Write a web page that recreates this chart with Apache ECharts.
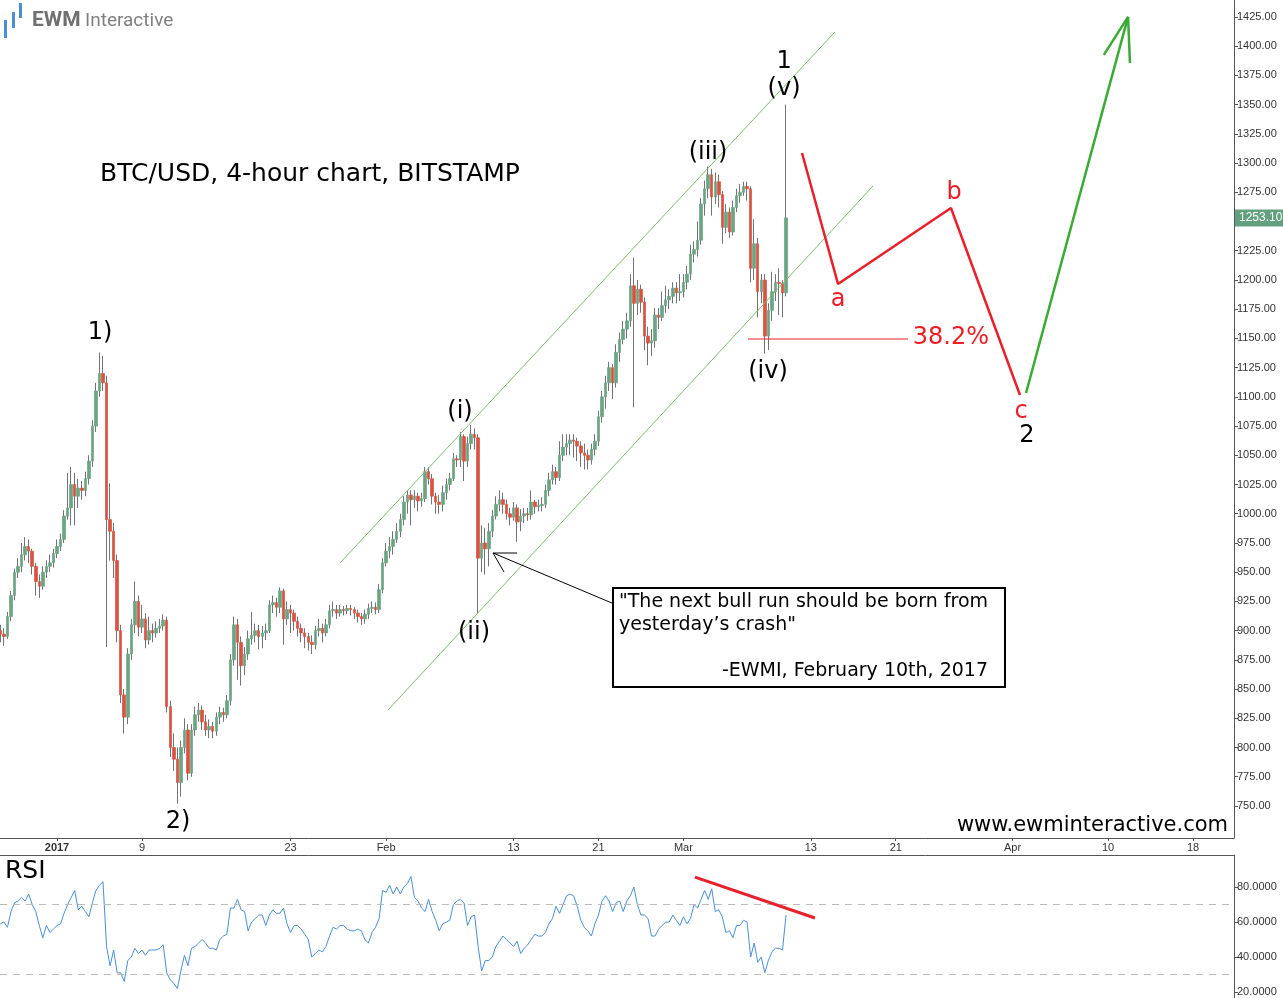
<!DOCTYPE html>
<html><head><meta charset="utf-8">
<script src="https://cdn.jsdelivr.net/npm/echarts@6/dist/echarts.min.js"></script>
<style>html,body{margin:0;padding:0;background:#fff}#c{width:1283px;height:998px}</style>
</head><body><div id="c"></div>
<script>
// ---- data: BTC/USD 8-hour candles (days since Jan 1, 2017) ----
const firstOpen = 900;
const closes = [
897,895,912,930,950,955,965,972,968,955,
942,938,950,955,958,966,972,978,998,1005,
1025,1015,1022,1020,1030,1045,1075,1105,1120,1112,
995,985,960,900,845,826,880,905,925,903,
910,892,900,898,902,904,909,835,800,790,
770,800,815,778,815,828,832,822,815,818,
814,826,830,828,840,875,905,890,870,880,
893,896,900,895,898,900,922,924,920,934,
910,918,915,908,902,898,895,890,888,900,
902,898,905,917,918,915,918,917,919,918,
915,912,910,914,919,920,918,935,958,968,
972,978,985,995,1010,1016,1012,1015,1011,1013,
1036,1030,1015,1010,1008,1018,1025,1030,1047,1046,
1066,1045,1060,1068,1065,962,975,970,985,998,
1008,1012,1008,1000,997,1005,993,998,1000,999,
1010,1006,1007,1008,1020,1029,1036,1031,1050,1057,
1060,1063,1062,1058,1052,1050,1046,1055,1062,1083,
1100,1112,1125,1112,1138,1149,1158,1165,1195,1180,
1192,1181,1152,1146,1148,1170,1168,1178,1183,1186,
1193,1189,1190,1198,1205,1222,1226,1234,1265,1278,
1290,1271,1284,1273,1245,1258,1241,1262,1272,1275,
1280,1278,1210,1231,1190,1200,1152,1174,1190,1198,
1197,1189,1253.1];
const highs = [
905,902,916,934,953,962,975,980,978,970,
958,948,955,960,965,970,978,983,1003,1035,
1040,1035,1030,1028,1036,1050,1080,1112,1138,1135,
1118,1026,992,965,905,850,885,910,942,930,
922,915,912,906,908,910,914,912,840,812,
800,806,825,820,820,835,838,836,828,824,
822,830,835,834,845,880,912,910,895,886,
900,916,906,905,904,906,926,930,928,937,
936,925,922,918,912,906,902,898,896,904,
910,906,910,922,925,922,922,921,922,922,
920,918,915,918,923,925,924,940,962,975,
980,985,992,1000,1015,1020,1020,1020,1018,1018,
1040,1040,1034,1018,1016,1024,1030,1035,1052,1050,
1070,1068,1066,1076,1073,1068,990,988,992,1003,
1015,1020,1018,1012,1005,1010,1008,1004,1005,1005,
1020,1012,1012,1014,1025,1035,1042,1040,1062,1068,
1068,1068,1068,1065,1062,1060,1055,1060,1068,1088,
1105,1118,1130,1128,1145,1155,1165,1172,1205,1219,
1200,1196,1185,1160,1158,1176,1176,1190,1195,1192,
1198,1198,1205,1205,1212,1230,1233,1250,1270,1285,
1297,1295,1292,1290,1276,1265,1262,1268,1278,1282,
1284,1284,1280,1252,1236,1205,1205,1180,1207,1205,
1210,1200,1350];
const lows = [
890,887,893,908,926,945,950,960,958,948,
930,928,935,945,950,954,962,968,975,995,
990,990,1005,1012,1015,1025,1040,1070,1100,1105,
886,960,945,890,838,812,820,875,898,895,
898,885,888,890,894,898,900,830,792,780,
752,758,795,772,775,810,822,815,810,808,
808,810,820,822,825,836,870,858,853,862,
875,888,890,884,885,892,898,915,912,915,
888,905,898,900,895,890,885,883,880,884,
895,890,895,902,912,910,912,913,914,913,
910,907,905,906,910,915,914,915,932,955,
962,965,975,980,990,1000,990,1005,1002,1006,
1010,1025,1008,1000,1000,1002,1012,1020,1028,1040,
1040,1028,1040,1055,1055,915,950,948,955,980,
995,1002,1000,995,990,994,976,985,992,994,
995,1000,1002,1002,1005,1015,1025,1025,1028,1045,
1050,1050,1048,1045,1040,1038,1038,1042,1050,1058,
1078,1090,1105,1098,1108,1130,1145,1150,1160,1091,
1170,1172,1140,1127,1135,1142,1158,1165,1172,1175,
1180,1180,1182,1185,1192,1200,1215,1220,1230,1255,
1270,1255,1265,1262,1231,1240,1236,1238,1258,1266,
1272,1268,1198,1200,1168,1180,1137,1140,1165,1182,
1170,1168,1186];
const rsi = [
59,60,57,66,71,72,74,72,76,70,
66,58,51,58,54,56,58,59,65,70,
74,78,67,69,66,63,71,78,81,83,
46,35,44,31,31,26,38,40,45,42,
44,41,44,44,44,45,47,31,27,25,
22,32,41,35,45,46,48,50,48,45,
45,44,50,52,53,68,68,73,67,66,
55,60,62,64,64,58,64,67,65,65,
68,59,54,58,58,56,53,50,40,42,
44,43,46,52,57,56,58,58,56,55,
55,56,55,50,48,54,57,62,78,77,
81,76,80,76,80,82,86,74,72,68,
66,73,66,61,55,59,60,61,70,72,
73,71,58,63,64,46,32,38,38,40,
46,49,52,50,48,46,49,42,45,47,
50,53,52,52,54,59,62,69,65,70,
75,76,75,69,61,57,55,52,59,64,
72,75,72,66,71,72,66,72,75,80,
70,64,64,62,52,52,56,58,60,60,
64,61,58,63,59,62,70,68,73,78,
73,79,66,67,63,54,55,51,58,58,
61,60,40,48,37,40,31,38,43,45,
45,44,64];
const startDay = -16/3;   // first candle time, days from Jan 1 2017
const stepDay = 1/3;      // 8-hour candles
const dateTicks = [0,8,22,31,43,51,59,71,79,90,99,107];
const dateLabels = ['2017','9','23','Feb','13','21','Mar','13','21','Apr','10','18'];
const priceTicks = [750,775,800,825,850,875,900,925,950,975,1000,1025,1050,1075,1100,1125,1150,1175,1200,1225,1275,1300,1325,1350,1375,1400,1425];
const rsiTicks = [20,40,60,80];
const rsiLevels = [70,30];
const lastPrice = 1253.10;

// ---- annotations (day, price) ----
const channelUpper = [[26.66,957.9],[73.28,1412.2]];
const channelLower = [[31.18,832.1],[76.86,1280.4]];
const redPath = [[70.17,1308.6],[73.56,1196.6],[84.2,1261.6],[90.7,1101.6]];
const greenPath = [[91.27,1103.3],[100.88,1425.0]];
const greenHead = [[98.6,1392.5],[100.88,1425.0],[101.06,1385.6]];
const fibLine = [[65.08,1149.5],[80.15,1149.5]];
const calloutArrow = [[52.27,923.6],[41.07,966.4]];
const calloutHead = [[43.33,966.4],[41.07,966.4],[42.1,950.2]];
const rsiTrend = [[60.09,85.7],[71.39,62.3]];
const waveLabels = [
  {name:'1)', value:[4.05,1154.6]},
  {name:'2)', value:[11.4,736.3]},
  {name:'(i)', value:[37.96,1087.1]},
  {name:'(ii)', value:[39.28,898]},
  {name:'(iii)', value:[61.32,1308.6]},
  {name:'(iv)', value:[66.97,1121.3]},
  {name:'(v)', value:[68.48,1363.4]},
  {name:'1', value:[68.48,1386.5]},
  {name:'2', value:[91.36,1066.5]}
];
const redLabels = [
  {name:'a', value:[73.56,1182.9]},
  {name:'b', value:[84.49,1274.4]},
  {name:'c', value:[90.8,1087.1]},
  {name:'38.2%', value:[84.2,1150.4]}
];

// ---- build ----
const xs = closes.map((_, i) => startDay + i * stepDay);
const opens = closes.map((c, i) => i === 0 ? firstOpen : closes[i - 1]);
const wickData = closes.map((c, i) => [xs[i], opens[i], c, lows[i], highs[i]]);
const bodyData = closes.map((c, i) => [xs[i], opens[i], c, Math.min(opens[i], c), Math.max(opens[i], c)]);
const rsiData = rsi.map((v, i) => [xs[i], v]);

const xMin = -5.369, xMax = 110.86;
const FONT = 'DejaVu Sans';

function lineSeries(data, color, width, xi, yi) {
  return {type:'line', data, xAxisIndex:xi||0, yAxisIndex:yi||0, showSymbol:false, symbol:'none',
    silent:true, z:5, lineStyle:{color, width}, animation:false, clip:false};
}
function labelSeries(data, color) {
  return {type:'scatter', data, xAxisIndex:0, yAxisIndex:0, symbol:'circle', symbolSize:0.01, silent:true, z:6, clip:false,
    itemStyle:{color, opacity:1},
    label:{show:true, position:'inside', formatter:'{b}', color, opacity:1, fontSize:24, fontFamily:FONT,
      textBorderWidth:0, textShadowBlur:0}};
}

const chart = echarts.init(document.getElementById('c'), null, {renderer:'canvas'});
chart.setOption({
  animation:false,
  backgroundColor:'#fff',
  grid:[
    {left:0, right:49, top:0, bottom:160, containLabel:false},
    {left:0, right:49, top:855, bottom:0, containLabel:false}
  ],
  xAxis:[
    {type:'value', gridIndex:0, min:xMin, max:xMax, position:'bottom',
      axisLine:{show:true, onZero:false, lineStyle:{color:'#555', width:1}},
      axisTick:{show:true, customValues:dateTicks, length:3, lineStyle:{color:'#555'}},
      axisLabel:{show:true, customValues:dateTicks, margin:4, color:'#333', fontSize:11, fontFamily:'Arial',
        formatter: v => { const k = dateTicks.findIndex(t => Math.abs(t - v) < 0.01); if (k < 0) return ''; return k === 0 ? '{b|' + dateLabels[k] + '}' : dateLabels[k]; },
        rich:{b:{fontWeight:'bold', fontSize:11, color:'#333', fontFamily:'Arial'}}},
      splitLine:{show:false}},
    {type:'value', gridIndex:1, min:xMin, max:xMax, position:'top',
      axisLine:{show:true, onZero:false, lineStyle:{color:'#555', width:1}},
      axisTick:{show:false}, axisLabel:{show:false}, splitLine:{show:false}}
  ],
  yAxis:[
    {type:'value', gridIndex:0, min:722.6, max:1439.5, position:'right',
      axisLine:{show:true, onZero:false, lineStyle:{color:'#555', width:1}},
      axisTick:{show:true, customValues:priceTicks, length:4, lineStyle:{color:'#555'}},
      axisLabel:{customValues:priceTicks, margin:3, color:'#333', fontSize:11, fontFamily:'Arial',
        formatter: v => v.toFixed(2)},
      splitLine:{show:false}},
    {type:'value', gridIndex:1, min:16.6, max:98.3, position:'right',
      axisLine:{show:true, onZero:false, lineStyle:{color:'#555', width:1}},
      axisTick:{show:true, customValues:rsiTicks, length:4, lineStyle:{color:'#555'}},
      axisLabel:{customValues:rsiTicks, margin:3, color:'#333', fontSize:11, fontFamily:'Arial',
        formatter: v => v.toFixed(4)},
      splitLine:{show:false}}
  ],
  series:[
    {type:'candlestick', name:'wicks', data:wickData, encode:{x:0, y:[1,2,3,4]},
      xAxisIndex:0, yAxisIndex:0, barWidth:1, silent:true,
      itemStyle:{color:'#737375', color0:'#737375', borderColor:'#737375', borderColor0:'#737375', borderWidth:1}},
    {type:'candlestick', name:'bodies', data:bodyData, encode:{x:0, y:[1,2,3,4]},
      xAxisIndex:0, yAxisIndex:0, barWidth:3, silent:true, z:3,
      itemStyle:{color:'#6ba583', color0:'#d75442', borderColor:'#6ba583', borderColor0:'#d75442', borderWidth:0.7}},
    {type:'line', data:[[xMin, lastPrice],[xMax, lastPrice]], xAxisIndex:0, yAxisIndex:0, showSymbol:false,
      symbol:'none', silent:true, lineStyle:{color:'rgba(0,0,0,0)', width:0},
      endLabel:{show:true, formatter:lastPrice.toFixed(2), distance:1, backgroundColor:'#62a07e',
        color:'#fff', fontSize:12, fontFamily:'Arial', padding:[3,4,2,4], width:40}},
    lineSeries(channelUpper, '#7cbf6c', 1),
    lineSeries(channelLower, '#7cbf6c', 1),
    lineSeries(fibLine, '#e8202a', 1.2),
    lineSeries(redPath, '#e8202a', 2.5),
    lineSeries(greenPath, '#3aaa35', 2.5),
    lineSeries(greenHead, '#3aaa35', 2.5),
    lineSeries(calloutArrow, '#000', 1),
    lineSeries(calloutHead, '#000', 1),
    labelSeries(waveLabels, '#000000'),
    labelSeries(redLabels, '#ee1c25'),
    {type:'line', data:rsiData, xAxisIndex:1, yAxisIndex:1, showSymbol:false, symbol:'none', silent:true,
      lineStyle:{color:'#4a8fd6', width:1},
      markLine:{symbol:'none', silent:true, animation:false, label:{show:false},
        lineStyle:{color:'#bbb', type:[7,6], width:1},
        data:rsiLevels.map(v => ({yAxis:v}))}},
    lineSeries(rsiTrend, '#e8202a', 3, 1, 1)
  ],
  graphic:[
    {type:'rect', shape:{x:4, y:20, width:3, height:18}, style:{fill:'#4a8fd6'}},
    {type:'rect', shape:{x:12, y:12, width:3, height:16}, style:{fill:'#4a8fd6'}},
    {type:'rect', shape:{x:19, y:3, width:3, height:15}, style:{fill:'#4a8fd6'}},
    {type:'text', x:32, y:21, style:{text:'EWM', font:'bold 21px Roboto', fill:'#707070', verticalAlign:'middle'}},
    {type:'text', x:85, y:21, style:{text:'Interactive', font:'19px Roboto', fill:'#808080', verticalAlign:'middle'}},
    {type:'text', x:100, y:174, style:{text:'BTC/USD, 4-hour chart, BITSTAMP', font:'25px ' + FONT, fill:'#000', verticalAlign:'middle'}},
    {type:'text', x:1228, y:826, style:{text:'www.ewminteractive.com', font:'21px ' + FONT, fill:'#000', align:'right', verticalAlign:'middle'}},
    {type:'text', x:5, y:871, style:{text:'RSI', font:'25px ' + FONT, fill:'#000', verticalAlign:'middle'}},
    {type:'rect', z:10, shape:{x:613, y:588, width:392, height:99}, style:{fill:'#fff', stroke:'#000', lineWidth:2}},
    {type:'text', z:11, x:619, y:602, style:{text:'"The next bull run should be born from', font:'19px ' + FONT, fill:'#000', verticalAlign:'middle'}},
    {type:'text', z:11, x:619, y:625, style:{text:'yesterday\u2019s crash"', font:'19px ' + FONT, fill:'#000', verticalAlign:'middle'}},
    {type:'text', z:11, x:988, y:671, style:{text:'-EWMI, February 10th, 2017', font:'19px ' + FONT, fill:'#000', align:'right', verticalAlign:'middle'}}
  ]
});
</script></body></html>
